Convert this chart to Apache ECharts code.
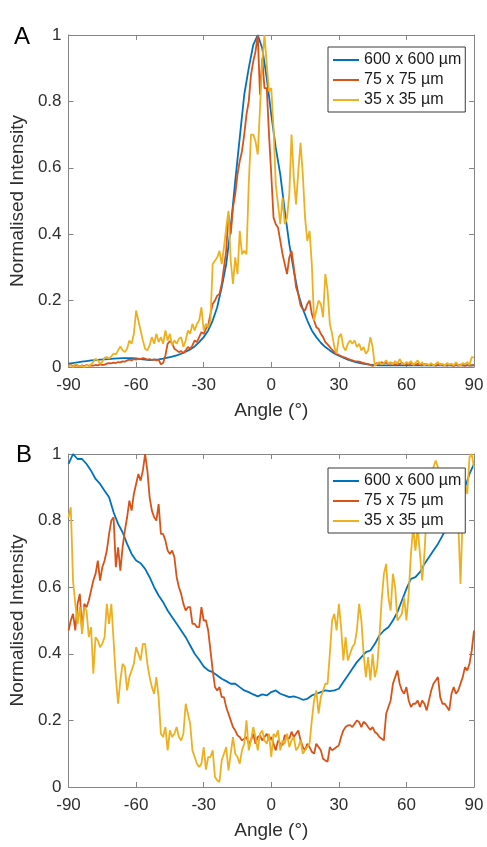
<!DOCTYPE html>
<html>
<head>
<meta charset="utf-8">
<script src="https://cdn.jsdelivr.net/npm/echarts@6/dist/echarts.min.js"></script>
<style>
  html, body { margin: 0; padding: 0; background: #fff; }
  #chart { width: 487px; height: 847px; }
</style>
</head>
<body>
<div id="chart"></div>
<script>
// Angular intensity profiles for three sampling areas, two samples (A, B).
const seriesNames = ['600 x 600 µm', '75 x 75 µm', '35 x 35 µm'];
const xTicks = [-90, -60, -30, 0, 30, 60, 90];
const yTicks = [0, 0.2, 0.4, 0.6, 0.8, 1];

// sampling grids (degrees)
const anglesFine = Array.from({ length: 181 }, (_, i) => i - 90);   // 1° steps
const anglesCoarse = Array.from({ length: 91 }, (_, i) => 2 * i - 90); // 2° steps

// Panel A
const blueA = [
  0.010,0.012,0.014,0.016,0.018,0.020,0.021,0.022,0.023,0.024,
  0.025,0.026,0.027,0.027,0.027,0.026,0.024,0.022,0.021,0.022,
  0.023,0.025,0.028,0.031,0.035,0.040,0.046,0.053,0.062,0.075,
  0.090,0.110,0.140,0.180,0.240,0.310,0.420,0.560,0.690,0.820,
  0.900,0.970,1.000,0.960,0.870,0.760,0.660,0.580,0.470,0.370,
  0.290,0.220,0.175,0.140,0.110,0.090,0.073,0.060,0.050,0.041,
  0.034,0.028,0.022,0.018,0.014,0.011,0.009,0.007,0.006,0.005,
  0.005,0.005,0.005,0.005,0.005,0.005,0.005,0.005,0.005,0.005,
  0.005,0.005,0.005,0.005,0.005,0.005,0.005,0.005,0.005,0.005,
  0.005
];
const redA = [
  0.004,0.006,0.003,0.005,0.004,0.002,0.005,0.003,0.006,0.004,
  0.005,0.004,0.006,0.005,0.008,0.006,0.007,0.010,0.012,0.011,
  0.013,0.012,0.015,0.014,0.017,0.016,0.020,0.022,0.020,0.024,
  0.022,0.025,0.024,0.027,0.025,0.022,0.024,0.021,0.023,0.020,
  0.022,0.008,0.012,0.035,0.070,0.078,0.072,0.055,0.050,0.045,
  0.048,0.042,0.050,0.060,0.055,0.065,0.080,0.075,0.090,0.105,
  0.100,0.115,0.125,0.160,0.190,0.200,0.215,0.220,0.250,0.300,
  0.350,0.460,0.400,0.480,0.520,0.580,0.620,0.650,0.700,0.760,
  0.800,0.880,0.920,0.950,1.000,0.820,0.930,0.840,0.840,0.700,
  0.580,0.450,0.430,0.420,0.380,0.340,0.310,0.280,0.330,0.350,
  0.300,0.240,0.220,0.185,0.175,0.170,0.190,0.200,0.160,0.140,
  0.120,0.115,0.100,0.090,0.075,0.068,0.060,0.052,0.045,0.040,
  0.036,0.033,0.030,0.028,0.025,0.022,0.020,0.018,0.017,0.016,
  0.014,0.012,0.010,0.008,0.006,0.003,0.008,0.012,0.010,0.014,
  0.011,0.013,0.009,0.012,0.010,0.007,0.011,0.009,0.013,0.008,
  0.010,0.007,0.012,0.009,0.006,0.010,0.008,0.005,0.009,0.007,
  0.005,0.008,0.006,0.004,0.007,0.009,0.005,0.006,0.004,0.007,
  0.005,0.003,0.006,0.004,0.007,0.005,0.003,0.006,0.004,0.005,
  0.006
];
const yellowA = [
  0.003,0.005,0.000,0.010,0.005,0.002,0.004,0.000,0.006,0.002,
  0.008,0.015,0.025,0.020,0.010,0.015,0.028,0.030,0.025,0.032,
  0.040,0.038,0.050,0.062,0.050,0.045,0.055,0.080,0.070,0.100,
  0.170,0.140,0.110,0.080,0.055,0.050,0.065,0.090,0.070,0.100,
  0.075,0.090,0.070,0.110,0.080,0.100,0.065,0.080,0.070,0.085,
  0.090,0.060,0.080,0.110,0.100,0.130,0.110,0.130,0.140,0.180,
  0.110,0.130,0.120,0.140,0.310,0.320,0.330,0.350,0.310,0.360,
  0.420,0.470,0.320,0.250,0.330,0.280,0.410,0.340,0.350,0.340,
  0.550,0.700,0.700,0.680,0.640,0.780,0.920,1.000,0.910,0.830,
  0.840,0.720,0.550,0.490,0.430,0.510,0.430,0.450,0.520,0.700,
  0.570,0.490,0.590,0.675,0.580,0.450,0.380,0.410,0.310,0.140,
  0.170,0.200,0.190,0.150,0.280,0.230,0.130,0.100,0.060,0.040,
  0.090,0.100,0.060,0.050,0.070,0.080,0.070,0.080,0.060,0.070,
  0.050,0.060,0.040,0.050,0.090,0.060,0.003,0.010,0.015,0.008,
  0.012,0.020,0.010,0.015,0.008,0.018,0.010,0.024,0.012,0.008,
  0.015,0.010,0.018,0.006,0.012,0.020,0.008,0.014,0.005,0.010,
  0.006,0.012,0.004,0.009,0.015,0.006,0.010,0.004,0.012,0.007,
  0.010,0.005,0.014,0.006,0.004,0.012,0.008,0.015,0.006,0.030,
  0.028
];

// Panel B
const blueB = [
  0.970,1.000,0.985,0.985,0.970,0.950,0.925,0.910,0.890,0.870,
  0.825,0.790,0.765,0.730,0.700,0.680,0.672,0.655,0.630,0.600,
  0.575,0.555,0.530,0.510,0.490,0.470,0.450,0.425,0.400,0.382,
  0.362,0.350,0.345,0.335,0.325,0.318,0.310,0.310,0.300,0.290,
  0.285,0.278,0.272,0.278,0.275,0.285,0.290,0.280,0.275,0.270,
  0.272,0.268,0.262,0.265,0.275,0.280,0.285,0.290,0.288,0.290,
  0.295,0.315,0.335,0.355,0.375,0.390,0.405,0.410,0.430,0.455,
  0.470,0.480,0.500,0.525,0.560,0.595,0.625,0.630,0.645,0.670,
  0.690,0.710,0.730,0.755,0.780,0.800,0.830,0.870,0.900,0.940,
  0.970
];
const redB = [
  0.47,0.50,0.52,0.47,0.55,0.58,0.47,0.55,0.54,0.56,
  0.59,0.62,0.64,0.68,0.62,0.66,0.68,0.71,0.76,0.80,
  0.81,0.66,0.72,0.65,0.72,0.77,0.81,0.86,0.83,0.88,
  0.91,0.94,0.92,0.95,1.00,0.95,0.87,0.83,0.81,0.80,
  0.85,0.76,0.76,0.74,0.71,0.70,0.71,0.69,0.63,0.60,
  0.58,0.55,0.53,0.54,0.54,0.49,0.49,0.48,0.48,0.54,
  0.50,0.50,0.47,0.41,0.35,0.30,0.29,0.30,0.27,0.27,
  0.24,0.22,0.20,0.18,0.17,0.155,0.15,0.14,0.145,0.15,
  0.13,0.14,0.16,0.13,0.15,0.155,0.14,0.15,0.16,0.14,
  0.15,0.13,0.11,0.14,0.13,0.125,0.156,0.15,0.145,0.166,
  0.15,0.16,0.17,0.14,0.12,0.11,0.13,0.12,0.106,0.10,
  0.13,0.12,0.11,0.085,0.08,0.076,0.12,0.11,0.115,0.12,
  0.125,0.15,0.17,0.18,0.185,0.186,0.18,0.19,0.20,0.195,
  0.18,0.196,0.19,0.18,0.171,0.18,0.165,0.16,0.15,0.145,
  0.14,0.22,0.24,0.26,0.31,0.33,0.35,0.31,0.29,0.28,
  0.30,0.26,0.24,0.25,0.25,0.26,0.24,0.26,0.25,0.23,
  0.26,0.29,0.31,0.32,0.33,0.27,0.25,0.25,0.24,0.23,
  0.28,0.30,0.28,0.29,0.31,0.33,0.36,0.35,0.37,0.41,
  0.47
];
const yellowB = [
  0.81,0.84,0.62,0.55,0.49,0.54,0.46,0.54,0.53,0.45,
  0.48,0.34,0.45,0.44,0.42,0.43,0.45,0.55,0.49,0.55,
  0.44,0.33,0.25,0.32,0.37,0.36,0.29,0.33,0.35,0.37,
  0.42,0.40,0.38,0.43,0.43,0.37,0.33,0.30,0.28,0.33,
  0.27,0.16,0.15,0.18,0.11,0.17,0.15,0.16,0.18,0.15,
  0.14,0.16,0.25,0.22,0.19,0.11,0.09,0.07,0.06,0.07,
  0.12,0.052,0.09,0.09,0.11,0.03,0.02,0.015,0.08,0.10,
  0.12,0.05,0.10,0.15,0.10,0.09,0.07,0.11,0.13,0.20,
  0.11,0.14,0.18,0.15,0.11,0.16,0.17,0.14,0.13,0.16,
  0.09,0.16,0.15,0.17,0.11,0.14,0.13,0.16,0.12,0.14,
  0.15,0.11,0.12,0.14,0.10,0.11,0.12,0.13,0.20,0.26,
  0.29,0.22,0.27,0.29,0.31,0.31,0.40,0.50,0.52,0.47,
  0.55,0.48,0.38,0.45,0.38,0.40,0.42,0.43,0.47,0.55,
  0.50,0.40,0.33,0.39,0.32,0.40,0.33,0.36,0.45,0.56,
  0.64,0.67,0.57,0.53,0.64,0.60,0.50,0.51,0.52,0.57,
  0.50,0.58,0.70,0.78,0.71,0.78,0.70,0.62,0.70,0.83,
  0.78,0.93,0.96,0.98,0.96,0.88,0.85,0.90,0.92,0.88,
  0.86,0.90,0.85,0.80,0.61,0.82,0.91,0.88,0.99,1.00,
  0.96
];

const colors = ['#0072BD', '#D95319', '#EDB120'];
const FONT = '"Liberation Sans", Arial, Helvetica, sans-serif';
const boxColor = '#858585';
const textColor = '#2e2e2e';

const pair = (xs, ys) => xs.map((x, i) => [x, ys[i]]);

const grids = [
  { left: 67, top: 35, width: 407, height: 332 },
  { left: 67, top: 454, width: 407, height: 333 }
];

function frameAxis(gridIndex, position, extra) {
  return Object.assign({
    type: 'value', gridIndex, position,
    splitLine: { show: false },
    axisLine: { show: true, onZero: false, lineStyle: { color: boxColor, width: 1 } },
    axisTick: { show: true, inside: true, length: 5, lineStyle: { color: boxColor } },
    axisLabel: { show: false }
  }, extra);
}

function xAxes(gridIndex) {
  const range = { min: xTicks[0], max: xTicks[xTicks.length - 1], interval: 30 };
  return [
    frameAxis(gridIndex, 'bottom', Object.assign({}, range, {
      axisLabel: { show: true, fontSize: 17, color: textColor, fontFamily: FONT, margin: 10 },
      name: 'Angle (°)', nameLocation: 'middle', nameGap: 34,
      nameTextStyle: { fontSize: 19, color: textColor, fontFamily: FONT }
    })),
    frameAxis(gridIndex, 'top', range)
  ];
}

function yAxes(gridIndex) {
  const range = { min: yTicks[0], max: yTicks[yTicks.length - 1], interval: 0.2 };
  return [
    frameAxis(gridIndex, 'left', Object.assign({}, range, {
      axisLabel: {
        show: true, fontSize: 17, color: textColor, fontFamily: FONT, margin: 7,
        formatter: v => String(+v.toFixed(1))
      },
      name: 'Normalised Intensity', nameLocation: 'middle', nameGap: 37,
      nameTextStyle: { fontSize: 19, color: textColor, fontFamily: FONT }
    })),
    frameAxis(gridIndex, 'right', range)
  ];
}

function lineSeries(name, data, color, axisIdx) {
  return {
    name, type: 'line', data, xAxisIndex: axisIdx, yAxisIndex: axisIdx,
    showSymbol: false, symbol: 'none', smooth: false,
    lineStyle: { color, width: 1.8 }, itemStyle: { color },
    animation: false, silent: true
  };
}

function legendAt(top) {
  return {
    orient: 'vertical', left: 328, top,
    padding: [5, 4, 4, 5], itemGap: 4, itemWidth: 26, itemHeight: 2,
    icon: 'rect',
    backgroundColor: '#ffffff', borderColor: '#3a3a3a', borderWidth: 1,
    textStyle: { fontSize: 16, color: '#1a1a1a', fontFamily: FONT, lineHeight: 16 },
    data: seriesNames,
    selectedMode: false
  };
}

const option = {
  backgroundColor: '#ffffff',
  animation: false,
  grid: grids,
  xAxis: [...xAxes(0), ...xAxes(1)],
  yAxis: [...yAxes(0), ...yAxes(1)],
  legend: [legendAt(47), legendAt(468)],
  graphic: [
    { type: 'text', left: 14, top: 25, style: { text: 'A', fontSize: 24, fill: '#000', fontFamily: FONT } },
    { type: 'text', left: 16, top: 443, style: { text: 'B', fontSize: 24, fill: '#000', fontFamily: FONT } }
  ],
  series: [
    lineSeries(seriesNames[0], pair(anglesCoarse, blueA), colors[0], 0),
    lineSeries(seriesNames[1], pair(anglesFine, redA), colors[1], 0),
    lineSeries(seriesNames[2], pair(anglesFine, yellowA), colors[2], 0),
    lineSeries(seriesNames[0], pair(anglesCoarse, blueB), colors[0], 2),
    lineSeries(seriesNames[1], pair(anglesFine, redB), colors[1], 2),
    lineSeries(seriesNames[2], pair(anglesFine, yellowB), colors[2], 2)
  ]
};

const chart = echarts.init(document.getElementById('chart'), null, { renderer: 'canvas' });
chart.setOption(option);
</script>
</body>
</html>
